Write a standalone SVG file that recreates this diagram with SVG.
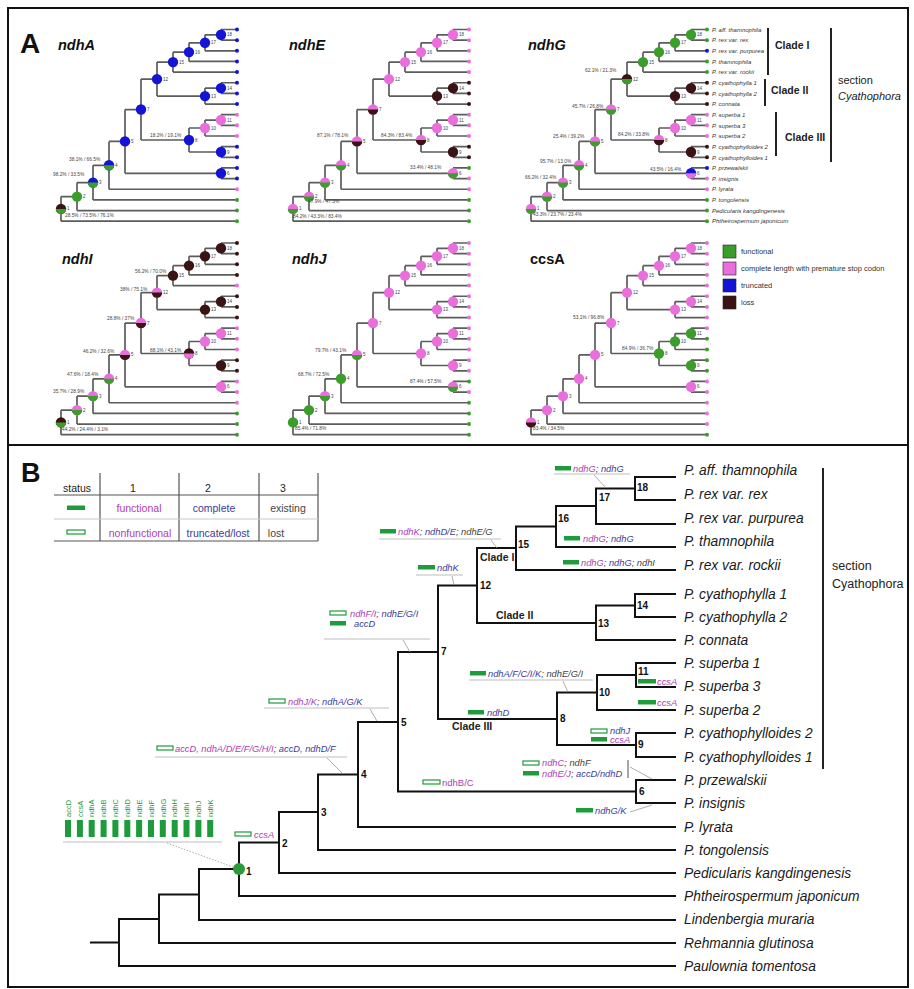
<svg xmlns="http://www.w3.org/2000/svg" width="914" height="989" viewBox="0 0 914 989">
<style>
text{font-family:"Liberation Sans",Arial,sans-serif}
.tree{fill:none;stroke:#111;stroke-width:2;stroke-linecap:square}
.at{fill:none;stroke:#5c5c5c;stroke-width:1.7}
.tip{font-size:13.8px;font-style:italic;fill:#1a1a1a}
.nl{font-size:10px;font-weight:bold;fill:#111}
.an{font-size:9.3px;font-style:italic}
.m{fill:#b03cb4}.b{fill:#3c3c9c}.k{fill:#444}
.fb{fill:#1e9b3a}
.ob{fill:#fff;stroke:#1e9b3a;stroke-width:1.2}
.ul{stroke:#bdbdbd;stroke-width:1;fill:none}
.ld{stroke:#999;stroke-width:0.8;fill:none}
.G{fill:#3b9e2a}.P{fill:#ea6fdc}.B{fill:#1414d6}.K{fill:#3a1414}
.gn{font-size:14.5px;font-weight:bold;font-style:italic;fill:#111}
.sv{font-size:4.8px;fill:#444}
.nn{font-size:4.5px;fill:#444}
.sl{font-size:6px;font-style:italic;fill:#333}
.cl{font-size:10.5px;font-weight:bold;fill:#222}
.tb{font-size:10.5px;text-anchor:middle}
.bar{stroke:#222;stroke-width:2}
.rg{font-size:7.5px;fill:#2a9a3a}
</style>
<defs>
<path id="atree" class="at" d="M-16,0V10.65M-16,0H0M-16,10.65H0M-32,5.33V21.3M-32,5.33H-16M-32,21.3H0M-48,13.31V31.95M-48,13.31H-32M-48,31.95H0M-64,22.63V42.6M-64,22.63H-48M-64,42.6H0M-16,53.25V63.9M-16,53.25H0M-16,63.9H0M-32,58.58V74.55M-32,58.58H-16M-32,74.55H0M-80,32.61V66.56M-80,32.61H-64M-80,66.56H-32M-16,85.2V95.85M-16,85.2H0M-16,95.85H0M-32,90.53V106.5M-32,90.53H-16M-32,106.5H0M-16,117.15V127.8M-16,117.15H0M-16,127.8H0M-48,98.51V122.48M-48,98.51H-32M-48,122.48H-16M-96,49.59V110.49M-96,49.59H-80M-96,110.49H-48M-16,138.45V149.1M-16,138.45H0M-16,149.1H0M-112,80.04V143.78M-112,80.04H-96M-112,143.78H-16M-128,111.91V159.75M-128,111.91H-112M-128,159.75H0M-144,135.83V170.4M-144,135.83H-128M-144,170.4H0M-160,153.12V181.05M-160,153.12H-144M-160,181.05H0M-176,167.08V191.7M-176,167.08H-160M-176,191.7H0"/>
<circle id="c" r="5.2"/>
<path id="hb" d="M-5.2,0A5.2,5.2 0 0 0 5.2,0Z"/>
<circle id="d" r="2"/>
<g id="anum" class="nn">
<text x="-10" y="6.8">18</text><text x="-26" y="14.8">17</text><text x="-42" y="24.1">16</text><text x="-58" y="34.1">15</text><text x="-10" y="60.1">14</text><text x="-26" y="68.1">13</text><text x="-74" y="51.1">12</text><text x="-10" y="92">11</text><text x="-26" y="100">10</text><text x="-10" y="124">9</text><text x="-42" y="112">8</text><text x="-90" y="81.5">7</text><text x="-10" y="145.3">6</text><text x="-106" y="113.4">5</text><text x="-122" y="137.3">4</text><text x="-138" y="154.6">3</text><text x="-154" y="168.6">2</text><text x="-170" y="180.9">1</text>
</g>
</defs>
<rect width="914" height="989" fill="#fff"/>
<rect x="8" y="8" width="900" height="979" fill="none" stroke="#111" stroke-width="2"/>
<line x1="8" y1="445" x2="908" y2="445" stroke="#111" stroke-width="2"/>
<text x="20" y="53" font-size="28" font-weight="bold" fill="#111">A</text>
<text x="21" y="482" font-size="27" font-weight="bold" fill="#111">B</text>

<g id="a-ndhA">
<text class="gn" x="58" y="50">ndhA</text>
<g transform="translate(237,29.5)">
<use href="#atree"/>
<use href="#d" class="B" y="0"/><use href="#d" class="B" y="10.65"/><use href="#d" class="B" y="21.3"/><use href="#d" class="B" y="31.95"/><use href="#d" class="B" y="42.6"/><use href="#d" class="B" y="53.25"/><use href="#d" class="B" y="63.9"/><use href="#d" class="B" y="74.55"/><use href="#d" class="P" y="85.2"/><use href="#d" class="P" y="95.85"/><use href="#d" class="P" y="106.5"/><use href="#d" class="B" y="117.15"/><use href="#d" class="B" y="127.8"/><use href="#d" class="B" y="138.45"/><use href="#d" class="B" y="149.1"/><use href="#d" class="P" y="159.75"/><use href="#d" class="G" y="170.4"/><use href="#d" class="G" y="181.05"/><use href="#d" class="G" y="191.7"/>
<use href="#c" class="B" x="-16" y="5.3"/><use href="#c" class="B" x="-32" y="13.3"/><use href="#c" class="B" x="-48" y="22.6"/><use href="#c" class="B" x="-64" y="32.6"/><use href="#c" class="B" x="-16" y="58.6"/><use href="#c" class="B" x="-32" y="66.6"/><use href="#c" class="B" x="-80" y="49.6"/><use href="#c" class="P" x="-16" y="90.5"/><use href="#c" class="P" x="-32" y="98.5"/><use href="#c" class="B" x="-16" y="122.5"/><use href="#c" class="B" x="-48" y="110.5"/><use href="#c" class="B" x="-96" y="80"/><use href="#c" class="B" x="-16" y="143.8"/><use href="#c" class="B" x="-112" y="111.9"/>
<use href="#c" class="B" x="-128" y="135.8"/><use href="#hb" class="G" x="-128" y="135.8"/>
<use href="#c" class="B" x="-144" y="153.1"/><use href="#hb" class="G" x="-144" y="153.1"/>
<use href="#c" class="G" x="-160" y="167.1"/>
<use href="#c" class="K" x="-176" y="179.4"/><use href="#hb" class="G" x="-176" y="179.4"/>
<use href="#anum"/>
</g>
<text class="sv" x="150" y="137">18.2% / 19.1%</text><text class="sv" x="69" y="161">38.1% / 66.5%</text><text class="sv" x="53" y="176">98.2% / 33.5%</text><text class="sv" x="65" y="217">28.5% / 73.5% / 76.1%</text>
</g>

<g id="a-ndhE">
<text class="gn" x="289" y="50">ndhE</text>
<g transform="translate(469,29.5)">
<use href="#atree"/>
<use href="#d" class="P" y="0"/><use href="#d" class="P" y="10.65"/><use href="#d" class="P" y="21.3"/><use href="#d" class="P" y="31.95"/><use href="#d" class="P" y="42.6"/><use href="#d" class="K" y="53.25"/><use href="#d" class="K" y="63.9"/><use href="#d" class="K" y="74.55"/><use href="#d" class="P" y="85.2"/><use href="#d" class="P" y="95.85"/><use href="#d" class="P" y="106.5"/><use href="#d" class="K" y="117.15"/><use href="#d" class="K" y="127.8"/><use href="#d" class="G" y="138.45"/><use href="#d" class="P" y="149.1"/><use href="#d" class="P" y="159.75"/><use href="#d" class="G" y="170.4"/><use href="#d" class="G" y="181.05"/><use href="#d" class="G" y="191.7"/>
<use href="#c" class="P" x="-16" y="5.3"/><use href="#c" class="P" x="-32" y="13.3"/><use href="#c" class="P" x="-48" y="22.6"/><use href="#c" class="P" x="-64" y="32.6"/><use href="#c" class="K" x="-16" y="58.6"/><use href="#c" class="K" x="-32" y="66.6"/><use href="#c" class="P" x="-80" y="49.6"/><use href="#c" class="P" x="-16" y="90.5"/><use href="#c" class="P" x="-32" y="98.5"/><use href="#c" class="K" x="-16" y="122.5"/>
<use href="#c" class="P" x="-48" y="110.5"/><use href="#hb" class="K" x="-48" y="110.5"/>
<use href="#c" class="P" x="-96" y="80"/><use href="#hb" class="K" x="-96" y="80"/>
<use href="#c" class="P" x="-16" y="143.8"/><use href="#hb" class="G" x="-16" y="143.8"/>
<use href="#c" class="P" x="-112" y="111.9"/><use href="#hb" class="K" x="-112" y="111.9"/>
<use href="#c" class="P" x="-128" y="135.8"/><use href="#hb" class="G" x="-128" y="135.8"/>
<use href="#c" class="P" x="-144" y="153.1"/><use href="#hb" class="G" x="-144" y="153.1"/>
<use href="#c" class="P" x="-160" y="167.1"/><use href="#hb" class="G" x="-160" y="167.1"/>
<use href="#c" class="P" x="-176" y="179.4"/><use href="#hb" class="G" x="-176" y="179.4"/>
<use href="#anum"/>
</g>
<text class="sv" x="317" y="137">87.1% / 78.1%</text><text class="sv" x="381" y="137">84.3% / 83.4%</text><text class="sv" x="410" y="169">33.4% / 48.1%</text><text class="sv" x="308" y="203">47.9% / 47.3%</text><text class="sv" x="293" y="218">84.2% / 43.3% / 83.4%</text>
</g>

<g id="a-ndhG">
<text class="gn" x="528" y="50">ndhG</text>
<g transform="translate(707,29.5)">
<use href="#atree"/>
<use href="#d" class="G" y="0"/><use href="#d" class="G" y="10.65"/><use href="#d" class="B" y="21.3"/><use href="#d" class="G" y="31.95"/><use href="#d" class="G" y="42.6"/><use href="#d" class="K" y="53.25"/><use href="#d" class="K" y="63.9"/><use href="#d" class="K" y="74.55"/><use href="#d" class="P" y="85.2"/><use href="#d" class="P" y="95.85"/><use href="#d" class="P" y="106.5"/><use href="#d" class="K" y="117.15"/><use href="#d" class="K" y="127.8"/><use href="#d" class="B" y="138.45"/><use href="#d" class="P" y="149.1"/><use href="#d" class="P" y="159.75"/><use href="#d" class="G" y="170.4"/><use href="#d" class="G" y="181.05"/><use href="#d" class="G" y="191.7"/>
<use href="#c" class="G" x="-16" y="5.3"/><use href="#c" class="G" x="-32" y="13.3"/><use href="#c" class="G" x="-48" y="22.6"/><use href="#c" class="G" x="-64" y="32.6"/><use href="#c" class="K" x="-16" y="58.6"/><use href="#c" class="K" x="-32" y="66.6"/>
<use href="#c" class="K" x="-80" y="49.6"/><use href="#hb" class="G" x="-80" y="49.6"/>
<use href="#c" class="P" x="-16" y="90.5"/><use href="#c" class="P" x="-32" y="98.5"/><use href="#c" class="K" x="-16" y="122.5"/>
<use href="#c" class="P" x="-48" y="110.5"/><use href="#hb" class="K" x="-48" y="110.5"/>
<use href="#c" class="P" x="-96" y="80"/><use href="#hb" class="G" x="-96" y="80"/>
<use href="#c" class="B" x="-16" y="143.8"/><use href="#hb" class="P" x="-16" y="143.8"/>
<use href="#c" class="P" x="-112" y="111.9"/><use href="#hb" class="G" x="-112" y="111.9"/>
<use href="#c" class="P" x="-128" y="135.8"/><use href="#hb" class="G" x="-128" y="135.8"/>
<use href="#c" class="P" x="-144" y="153.1"/><use href="#hb" class="G" x="-144" y="153.1"/>
<use href="#c" class="P" x="-160" y="167.1"/><use href="#hb" class="G" x="-160" y="167.1"/>
<use href="#c" class="P" x="-176" y="179.4"/><use href="#hb" class="G" x="-176" y="179.4"/>
<use href="#anum"/>
<g class="sl">
<text x="5" y="2.2">P. aff. thamnophila</text><text x="5" y="12.85">P. rex var. rex</text><text x="5" y="23.5">P. rex var. purpurea</text><text x="5" y="34.15">P. thamnophila</text><text x="5" y="44.8">P. rex var. rockii</text><text x="5" y="55.45">P. cyathophylla 1</text><text x="5" y="66.1">P. cyathophylla 2</text><text x="5" y="76.75">P. connata</text><text x="5" y="87.4">P. superba 1</text><text x="5" y="98.05">P. superba 3</text><text x="5" y="108.7">P. superba 2</text><text x="5" y="119.35">P. cyathophylloides 2</text><text x="5" y="130">P. cyathophylloides 1</text><text x="5" y="140.65">P. przewalskii</text><text x="5" y="151.3">P. insignis</text><text x="5" y="161.95">P. lyrata</text><text x="5" y="172.6">P. tongolensis</text><text x="5" y="183.25">Pedicularis kangdingenesis</text><text x="5" y="193.9">Phtheirospermum japonicum</text>
</g>
</g>
<text class="sv" x="585" y="72">62.1% / 21.3%</text><text class="sv" x="572" y="108">45.7% / 26.8%</text><text class="sv" x="553" y="138">25.4% / 39.2%</text><text class="sv" x="618" y="136">84.2% / 33.8%</text><text class="sv" x="540" y="163">95.7% / 13.0%</text><text class="sv" x="650" y="171">43.5% / 16.4%</text><text class="sv" x="525" y="179">66.2% / 32.4%</text><text class="sv" x="533" y="216">43.3% / 23.7% / 23.4%</text>
<g id="a-clades">
<line class="bar" x1="768" y1="28" x2="768" y2="75"/><text class="cl" x="775" y="49">Clade I</text>
<line class="bar" x1="765" y1="79" x2="765" y2="106"/><text class="cl" x="771" y="94">Clade II</text>
<line class="bar" x1="776" y1="112" x2="776" y2="156"/><text class="cl" x="785" y="141">Clade III</text>
<line class="bar" x1="831" y1="28" x2="831" y2="162"/>
<text x="838" y="84" font-size="11" fill="#222">section</text>
<text x="838" y="100" font-size="11" font-style="italic" fill="#222">Cyathophora</text>
</g>
</g>

<g id="a-ndhI">
<text class="gn" x="62" y="264">ndhI</text>
<g transform="translate(237,243)">
<use href="#atree"/>
<use href="#d" class="K" y="0"/><use href="#d" class="K" y="10.65"/><use href="#d" class="K" y="21.3"/><use href="#d" class="K" y="31.95"/><use href="#d" class="P" y="42.6"/><use href="#d" class="K" y="53.25"/><use href="#d" class="K" y="63.9"/><use href="#d" class="K" y="74.55"/><use href="#d" class="P" y="85.2"/><use href="#d" class="P" y="95.85"/><use href="#d" class="P" y="106.5"/><use href="#d" class="K" y="117.15"/><use href="#d" class="K" y="127.8"/><use href="#d" class="P" y="138.45"/><use href="#d" class="P" y="149.1"/><use href="#d" class="P" y="159.75"/><use href="#d" class="G" y="170.4"/><use href="#d" class="G" y="181.05"/><use href="#d" class="G" y="191.7"/>
<use href="#c" class="K" x="-16" y="5.3"/><use href="#c" class="K" x="-32" y="13.3"/><use href="#c" class="K" x="-48" y="22.6"/><use href="#c" class="K" x="-64" y="32.6"/><use href="#c" class="K" x="-16" y="58.6"/><use href="#c" class="K" x="-32" y="66.6"/>
<use href="#c" class="P" x="-80" y="49.6"/><use href="#hb" class="K" x="-80" y="49.6"/>
<use href="#c" class="P" x="-16" y="90.5"/><use href="#c" class="P" x="-32" y="98.5"/><use href="#c" class="K" x="-16" y="122.5"/>
<use href="#c" class="K" x="-48" y="110.5"/><use href="#hb" class="P" x="-48" y="110.5"/>
<use href="#c" class="P" x="-96" y="80"/><use href="#hb" class="K" x="-96" y="80"/>
<use href="#c" class="P" x="-16" y="143.8"/>
<use href="#c" class="P" x="-112" y="111.9"/><use href="#hb" class="K" x="-112" y="111.9"/>
<use href="#c" class="P" x="-128" y="135.8"/><use href="#hb" class="G" x="-128" y="135.8"/>
<use href="#c" class="P" x="-144" y="153.1"/><use href="#hb" class="G" x="-144" y="153.1"/>
<use href="#c" class="P" x="-160" y="167.1"/><use href="#hb" class="G" x="-160" y="167.1"/>
<use href="#c" class="K" x="-176" y="179.4"/><use href="#hb" class="G" x="-176" y="179.4"/>
<use href="#anum"/>
</g>
<text class="sv" x="135" y="273">56.2% / 70.0%</text><text class="sv" x="120" y="291">38% / 75.1%</text><text class="sv" x="107" y="320">28.8% / 37%</text><text class="sv" x="150" y="352">88.1% / 43.1%</text><text class="sv" x="83" y="353">46.2% / 32.6%</text><text class="sv" x="67" y="376">47.6% / 18.4%</text><text class="sv" x="53" y="393">35.7% / 28.9%</text><text class="sv" x="62" y="431">44.2% / 24.4% / 3.1%</text>
</g>

<g id="a-ndhJ">
<text class="gn" x="292" y="264">ndhJ</text>
<g transform="translate(469,243)">
<use href="#atree"/>
<use href="#d" class="P" y="0"/><use href="#d" class="P" y="10.65"/><use href="#d" class="P" y="21.3"/><use href="#d" class="P" y="31.95"/><use href="#d" class="P" y="42.6"/><use href="#d" class="P" y="53.25"/><use href="#d" class="P" y="63.9"/><use href="#d" class="P" y="74.55"/><use href="#d" class="P" y="85.2"/><use href="#d" class="P" y="95.85"/><use href="#d" class="P" y="106.5"/><use href="#d" class="P" y="117.15"/><use href="#d" class="P" y="127.8"/><use href="#d" class="G" y="138.45"/><use href="#d" class="P" y="149.1"/><use href="#d" class="G" y="159.75"/><use href="#d" class="G" y="170.4"/><use href="#d" class="G" y="181.05"/><use href="#d" class="G" y="191.7"/>
<use href="#c" class="P" x="-16" y="5.3"/><use href="#c" class="P" x="-32" y="13.3"/><use href="#c" class="P" x="-48" y="22.6"/><use href="#c" class="P" x="-64" y="32.6"/><use href="#c" class="P" x="-16" y="58.6"/><use href="#c" class="P" x="-32" y="66.6"/><use href="#c" class="P" x="-80" y="49.6"/><use href="#c" class="P" x="-16" y="90.5"/><use href="#c" class="P" x="-32" y="98.5"/><use href="#c" class="P" x="-16" y="122.5"/><use href="#c" class="P" x="-48" y="110.5"/><use href="#c" class="P" x="-96" y="80"/>
<use href="#c" class="P" x="-16" y="143.8"/><use href="#hb" class="G" x="-16" y="143.8"/>
<use href="#c" class="P" x="-112" y="111.9"/><use href="#hb" class="G" x="-112" y="111.9"/>
<use href="#c" class="G" x="-128" y="135.8"/>
<use href="#c" class="P" x="-144" y="153.1"/><use href="#hb" class="G" x="-144" y="153.1"/>
<use href="#c" class="G" x="-160" y="167.1"/>
<use href="#c" class="G" x="-176" y="179.4"/>
<use href="#anum"/>
</g>
<text class="sv" x="315" y="352">79.7% / 43.1%</text><text class="sv" x="298" y="376">68.7% / 72.5%</text><text class="sv" x="410" y="383">87.4% / 57.5%</text><text class="sv" x="295" y="430">85.4% / 71.8%</text>
</g>

<g id="a-ccsA">
<text x="530" y="264" font-size="14.5" font-weight="bold" fill="#111">ccsA</text>
<g transform="translate(707,243)">
<use href="#atree"/>
<use href="#d" class="P" y="0"/><use href="#d" class="P" y="10.65"/><use href="#d" class="P" y="21.3"/><use href="#d" class="P" y="31.95"/><use href="#d" class="P" y="42.6"/><use href="#d" class="P" y="53.25"/><use href="#d" class="P" y="63.9"/><use href="#d" class="P" y="74.55"/><use href="#d" class="P" y="85.2"/><use href="#d" class="G" y="95.85"/><use href="#d" class="G" y="106.5"/><use href="#d" class="G" y="117.15"/><use href="#d" class="G" y="127.8"/><use href="#d" class="P" y="138.45"/><use href="#d" class="P" y="149.1"/><use href="#d" class="P" y="159.75"/><use href="#d" class="P" y="170.4"/><use href="#d" class="P" y="181.05"/><use href="#d" class="G" y="191.7"/>
<use href="#c" class="P" x="-16" y="5.3"/><use href="#c" class="P" x="-32" y="13.3"/><use href="#c" class="P" x="-48" y="22.6"/><use href="#c" class="P" x="-64" y="32.6"/><use href="#c" class="P" x="-16" y="58.6"/><use href="#c" class="P" x="-32" y="66.6"/><use href="#c" class="P" x="-80" y="49.6"/><use href="#c" class="G" x="-16" y="90.5"/><use href="#c" class="G" x="-32" y="98.5"/><use href="#c" class="G" x="-16" y="122.5"/><use href="#c" class="G" x="-48" y="110.5"/><use href="#c" class="P" x="-96" y="80"/><use href="#c" class="P" x="-16" y="143.8"/><use href="#c" class="P" x="-112" y="111.9"/><use href="#c" class="P" x="-128" y="135.8"/><use href="#c" class="P" x="-144" y="153.1"/><use href="#c" class="P" x="-160" y="167.1"/>
<use href="#c" class="P" x="-176" y="179.4"/><use href="#hb" class="K" x="-176" y="179.4"/>
<use href="#anum"/>
</g>
<text class="sv" x="573" y="319">53.1% / 96.8%</text><text class="sv" x="622" y="350">84.9% / 36.7%</text><text class="sv" x="533" y="430">83.4% / 34.5%</text>
</g>

<g id="legend">
<rect x="723" y="245" width="13" height="13" class="G" stroke="#222" stroke-width="0.6"/>
<rect x="723" y="262" width="13" height="13" class="P" stroke="#222" stroke-width="0.6"/>
<rect x="723" y="279" width="13" height="13" class="B" stroke="#222" stroke-width="0.6"/>
<rect x="723" y="296" width="13" height="13" class="K" stroke="#222" stroke-width="0.6"/>
<g font-size="7.5" fill="#333">
<text x="741" y="254">functional</text>
<text x="741" y="271">complete length with premature stop codon</text>
<text x="741" y="288">truncated</text>
<text x="741" y="305">loss</text>
</g>
</g>

<g id="table">
<g stroke="#555" stroke-width="1.2">
<line x1="100" y1="473" x2="100" y2="541"/><line x1="179" y1="473" x2="179" y2="541"/><line x1="259" y1="473" x2="259" y2="541"/><line x1="318" y1="473" x2="318" y2="541"/>
<line x1="54" y1="495" x2="318" y2="495"/><line x1="54" y1="541" x2="318" y2="541"/>
</g>
<line x1="54" y1="519" x2="318" y2="519" stroke="#c8c8c8" stroke-width="1"/>
<g class="tb" fill="#222">
<text x="77" y="492">status</text><text x="133" y="492">1</text><text x="208" y="492">2</text><text x="283" y="492">3</text>
</g>
<rect class="fb" x="67" y="505.5" width="18" height="4.5"/>
<rect class="ob" x="67" y="530" width="18" height="4"/>
<text class="tb m" x="139" y="512">functional</text>
<text class="tb b" x="214" y="512">complete</text>
<text class="tb k" x="288" y="512">existing</text>
<text class="tb m" x="140" y="537">nonfunctional</text>
<text class="tb b" x="218" y="537">truncated/lost</text>
<text class="tb k" x="276" y="537">lost</text>
</g>

<g id="connectors">
<path class="tree" d="M91,942.5H119M119,919V966M119,919H159M119,966H675M159,894.5V943M159,894.5H199M159,943H675M199,869V920M199,869H239M199,920H675M239,842.5V896M239,842.5H279M239,896H675M279,812V873M279,812H318M279,873H675M318,774.5V850M318,774.5H358M318,850H675M358,722V827M358,722H398M358,827H675M398,652V791.5M398,652H438M398,791.5H636M636,780V803M636,780H675M636,803H675M438,585.5V719M438,585.5H477M438,719H557M557,692.5V745M557,692.5H597M557,745H636M636,733V757M636,733H675M636,757H675M597,675V710M597,675H636M597,710H675M636,663V687M636,663H675M636,687H675M477,548V623M477,548H516M477,623H596M596,605.5V640M596,605.5H635M596,640H675M635,594V617M635,594H675M635,617H675M516,526.5V570M516,526.5H556M516,570H675M556,506V547M556,506H596M556,547H675M596,488.5V524M596,488.5H635M596,524H675M635,477V500M635,477H675M635,500H675"/>
<g class="ul">
<path d="M63,842H222M155,757H347M264,708H389M324,639H430M416,575H463M379,539H501M554,474H630M469,680H593"/>
</g>
<g class="ld">
<path d="M167,843L233,867" stroke-dasharray="1.5,1.5"/>
<path d="M327,758L343,774M370,709L377,721M403,640L410,652M452,576L454,585M491,540L497,548M594,475L606,488M563,681L568,692M630,767L652,779M630,812L652,805"/>
</g>
<line x1="628" y1="760" x2="628" y2="778" stroke="#222" stroke-width="0.8"/>
</g>

<g id="nodes-B">
<circle cx="239" cy="869" r="6" fill="#2a9a3a"/>
<g class="nl">
<text x="246" y="875">1</text><text x="282" y="847">2</text><text x="321" y="816">3</text><text x="361" y="778">4</text><text x="401" y="726">5</text><text x="639" y="795">6</text><text x="441" y="655">7</text><text x="560" y="722">8</text><text x="638" y="748">9</text><text x="599" y="696">10</text><text x="638" y="675">11</text><text x="480" y="589">12</text><text x="598" y="627">13</text><text x="637" y="609">14</text><text x="518" y="548">15</text><text x="558" y="522">16</text><text x="599" y="501">17</text><text x="637" y="491">18</text>
</g>
<g class="cl">
<text x="480" y="561">Clade I</text><text x="496" y="619">Clade II</text><text x="452" y="730">Clade III</text>
</g>
</g>

<g id="tips-B" class="tip">
<text x="684" y="475">P. aff. thamnophila</text>
<text x="684" y="499">P. rex var. rex</text>
<text x="684" y="523">P. rex var. purpurea</text>
<text x="684" y="546">P. thamnophila</text>
<text x="684" y="570">P. rex var. rockii</text>
<text x="684" y="599">P. cyathophylla 1</text>
<text x="684" y="622">P. cyathophylla 2</text>
<text x="684" y="645">P. connata</text>
<text x="684" y="668">P. superba 1</text>
<text x="684" y="691">P. superba 3</text>
<text x="684" y="715">P. superba 2</text>
<text x="684" y="738">P. cyathophylloides 2</text>
<text x="684" y="762">P. cyathophylloides 1</text>
<text x="684" y="785">P. przewalskii</text>
<text x="684" y="808">P. insignis</text>
<text x="684" y="832">P. lyrata</text>
<text x="684" y="855">P. tongolensis</text>
<text x="684" y="878">Pedicularis kangdingenesis</text>
<text x="684" y="901">Phtheirospermum japonicum</text>
<text x="684" y="924">Lindenbergia muraria</text>
<text x="684" y="948">Rehmannia glutinosa</text>
<text x="684" y="971">Paulownia tomentosa</text>
</g>

<g id="section-B">
<line class="bar" x1="823" y1="468" x2="823" y2="769"/>
<text x="832" y="570" font-size="12.5" fill="#222">section</text>
<text x="832" y="588" font-size="12.5" fill="#222">Cyathophora</text>
</g>

<g id="root-annot">
<g class="rg">
<text transform="translate(70.7,817) rotate(-90)">accD</text>
<text transform="translate(82.6,817) rotate(-90)">ccsA</text>
<text transform="translate(94.4,817) rotate(-90)">ndhA</text>
<text transform="translate(106.3,817) rotate(-90)">ndhB</text>
<text transform="translate(118.1,817) rotate(-90)">ndhC</text>
<text transform="translate(130,817) rotate(-90)">ndhD</text>
<text transform="translate(141.8,817) rotate(-90)">ndhE</text>
<text transform="translate(153.7,817) rotate(-90)">ndhF</text>
<text transform="translate(165.5,817) rotate(-90)">ndhG</text>
<text transform="translate(177.4,817) rotate(-90)">ndhH</text>
<text transform="translate(189.2,817) rotate(-90)">ndhI</text>
<text transform="translate(201.1,817) rotate(-90)">ndhJ</text>
<text transform="translate(212.9,817) rotate(-90)">ndhK</text>
</g>
<g class="fb">
<rect x="65" y="820" width="6" height="17"/><rect x="76.9" y="820" width="6" height="17"/><rect x="88.7" y="820" width="6" height="17"/><rect x="100.6" y="820" width="6" height="17"/><rect x="112.4" y="820" width="6" height="17"/><rect x="124.3" y="820" width="6" height="17"/><rect x="136.1" y="820" width="6" height="17"/><rect x="148" y="820" width="6" height="17"/><rect x="159.8" y="820" width="6" height="17"/><rect x="171.7" y="820" width="6" height="17"/><rect x="183.5" y="820" width="6" height="17"/><rect x="195.4" y="820" width="6" height="17"/><rect x="207.2" y="820" width="6" height="17"/>
</g>
</g>

<g id="annotations">
<rect class="ob" x="235" y="832" width="16" height="4"/><text class="an m" x="254" y="837.5">ccsA</text>
<rect class="ob" x="157" y="746" width="16" height="4"/><text class="an" x="175" y="751.5"><tspan class="m">accD, ndhA/D/E/F/G/H/I</tspan><tspan class="b">; accD, ndhD/F</tspan></text>
<rect class="ob" x="269" y="699" width="16" height="4"/><text class="an" x="288" y="704.5"><tspan class="m">ndhJ/K</tspan><tspan class="b">; ndhA/G/K</tspan></text>
<rect class="ob" x="330" y="611" width="16" height="4"/><text class="an" x="350" y="616.5"><tspan class="m">ndhF/I</tspan><tspan class="b">; ndhE/G/I</tspan></text>
<rect class="fb" x="330" y="621" width="16" height="4.5"/><text class="an b" x="354" y="626.5">accD</text>
<rect class="fb" x="418" y="565" width="17" height="4.5"/><text class="an b" x="437" y="571">ndhK</text>
<rect class="fb" x="380" y="529" width="16" height="4.5"/><text class="an" x="398" y="534.5"><tspan class="m">ndhK</tspan><tspan class="b">; ndhD/E</tspan><tspan class="k">; ndhE/G</tspan></text>
<rect class="fb" x="555" y="466" width="16" height="4.5"/><text class="an" x="573" y="471.5"><tspan class="m">ndhG</tspan><tspan class="b">; ndhG</tspan></text>
<rect class="fb" x="564" y="536" width="16" height="4.5"/><text class="an" x="583" y="541.5"><tspan class="m">ndhG</tspan><tspan class="b">; ndhG</tspan></text>
<rect class="fb" x="563" y="560" width="16" height="4.5"/><text class="an" x="581" y="565.5"><tspan class="m">ndhG</tspan><tspan class="b">; ndhG</tspan><tspan class="k">; ndhI</tspan></text>
<rect class="fb" x="470" y="671" width="16" height="4.5"/><text class="an" x="488" y="676.5"><tspan class="b">ndhA/F/C/I/K</tspan><tspan class="k">; ndhE/G/I</tspan></text>
<rect class="fb" x="638" y="679" width="18" height="4.5"/><text class="an m" x="657" y="684.5">ccsA</text>
<rect class="fb" x="638" y="700" width="18" height="4.5"/><text class="an m" x="657" y="705.5">ccsA</text>
<rect class="fb" x="468" y="710" width="16" height="4.5"/><text class="an b" x="487" y="715.5">ndhD</text>
<rect class="ob" x="591" y="729" width="16" height="4"/><text class="an b" x="610" y="734" font-size="8.5">ndhJ</text>
<rect class="fb" x="591" y="737" width="16" height="4.5"/><text class="an m" x="610" y="742.5" font-size="8.5">ccsA</text>
<rect class="ob" x="523" y="761" width="16" height="4"/><text class="an" x="542" y="766" font-size="8.8"><tspan class="m">ndhC</tspan><tspan class="k">; ndhF</tspan></text>
<rect class="fb" x="523" y="771" width="16" height="4.5"/><text class="an" x="542" y="776.5" font-size="8.8"><tspan class="m">ndhE/J</tspan><tspan class="b">; accD/ndhD</tspan></text>
<rect class="fb" x="576" y="808" width="17" height="4.5"/><text class="an b" x="595" y="813.5">ndhG/K</text>
<rect class="ob" x="423" y="780" width="17" height="4"/><text class="m" x="442" y="786" font-size="9.5">ndhB/C</text>
</g>
</svg>
